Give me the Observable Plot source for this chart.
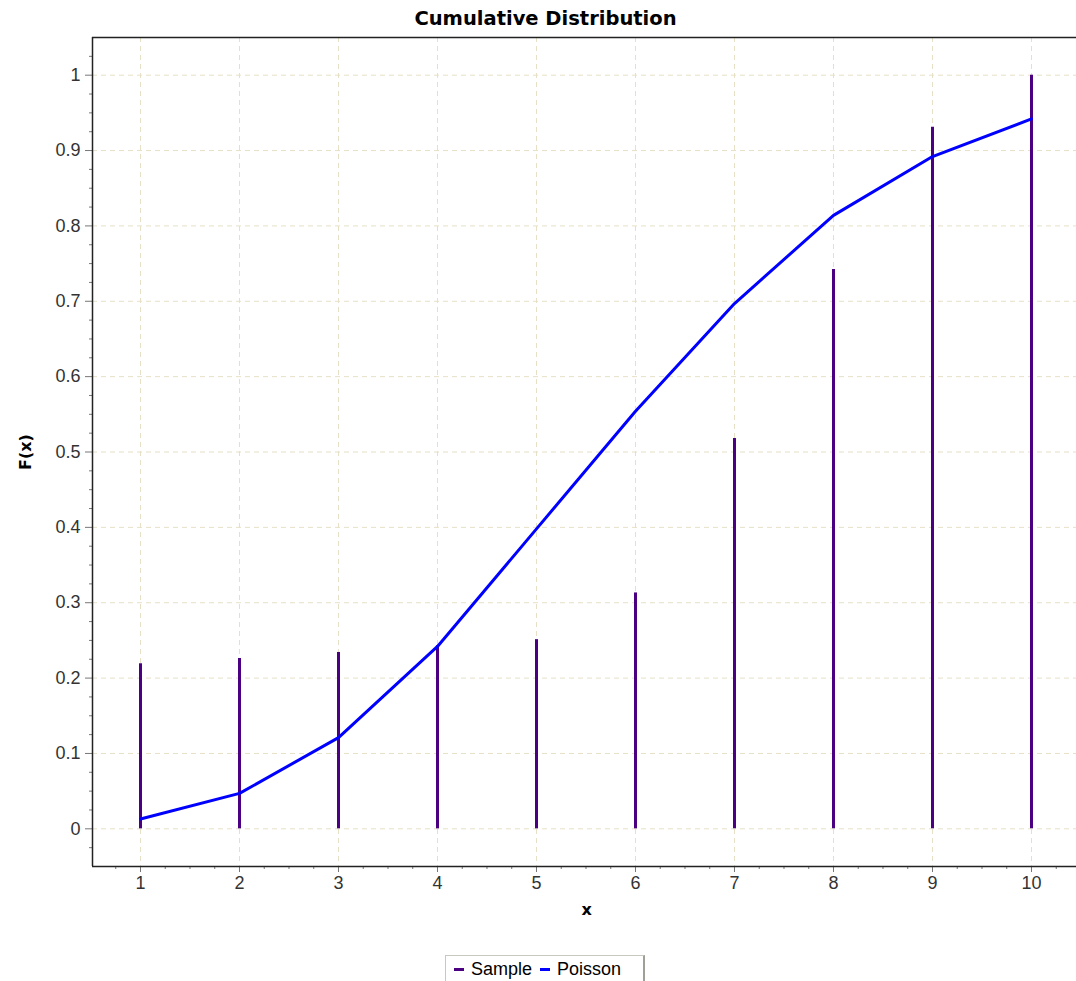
<!DOCTYPE html>
<html>
<head>
<meta charset="utf-8">
<script src="https://cdn.jsdelivr.net/npm/d3@7"></script>
<script src="https://cdn.jsdelivr.net/npm/@observablehq/plot@0.6"></script>
<style>
  html, body { margin: 0; padding: 0; background: #fff; }
  #wrap { position: relative; width: 1076px; height: 981px; overflow: hidden; }
  #title { position: absolute; left: 0; top: 8px; width: 1091px; text-align: center;
           font: bold 19.5px "DejaVu Sans", sans-serif; line-height: 22px; color: #000; }
  #chart { position: absolute; left: 0; top: 0; }
  #legend { position: absolute; left: 445px; top: 955px; width: 200px; height: 32px;
            border: 1px solid #c8c8c0; border-right: 2px solid #a0a098; box-sizing: border-box;
            font: 18px "Liberation Sans", Arial, sans-serif; color: #000;
            display: flex; align-items: flex-start; padding-top: 3px; padding-left: 8px; }
  .item { display: flex; align-items: center; margin-right: 8px; line-height: 20px; }
  .sw { display: inline-block; width: 10px; height: 3px; margin-right: 7px; }
</style>
</head>
<body>
<div id="wrap">
  <div id="chart"></div>
  <div id="title">Cumulative Distribution</div>
  <div id="legend"></div>
</div>
<script>
// Data
const xValues = [1, 2, 3, 4, 5, 6, 7, 8, 9, 10];
const sampleValues = [0.219, 0.226, 0.234, 0.243, 0.251, 0.313, 0.518, 0.742, 0.931, 1.0];
const poissonValues = [0.013, 0.047, 0.121, 0.242, 0.398, 0.554, 0.697, 0.814, 0.892, 0.942];
const yTicks = [0, 0.1, 0.2, 0.3, 0.4, 0.5, 0.6, 0.7, 0.8, 0.9, 1];
const seriesNames = ["Sample", "Poisson"];
const seriesColors = ["#4b0082", "#0000ff"];

const sample = xValues.map((x, i) => ({x, y: sampleValues[i]}));
const poisson = xValues.map((x, i) => ({x, y: poissonValues[i]}));

const xDomain = [0.5152, 10.5];
const yDomain = [-0.05, 1.05];
const xMinor = d3.range(0.75, 10.5, 0.25).filter(v => Math.abs(v - Math.round(v)) > 1e-6);
const yMinor = d3.range(-0.025, 1.05, 0.025).filter(v => Math.abs(v * 10 - Math.round(v * 10)) > 1e-6);

const gridColor = "#e6e0c6";

const plot = Plot.plot({
  width: 1076,
  height: 930,
  marginLeft: 92,
  marginRight: -4.5,
  marginTop: 37,
  marginBottom: 64,
  style: {fontFamily: "'Liberation Sans', Arial, sans-serif", background: "transparent"},
  x: {domain: xDomain},
  y: {domain: yDomain},
  marks: [
    Plot.gridX(xValues, {stroke: gridColor, strokeOpacity: 1, strokeDasharray: "5,4"}),
    Plot.gridY(yTicks, {stroke: gridColor, strokeOpacity: 1, strokeDasharray: "5,4"}),
    Plot.axisX(xValues, {tickSize: 6, tickPadding: 4, fontSize: 18, stroke: "#777", fill: "#333", label: null, tickFormat: d => String(d)}),
    Plot.axisX(xMinor, {tickSize: 3, tickFormat: () => "", stroke: "#777", label: null}),
    Plot.axisY(yTicks, {tickSize: 7, tickPadding: 5, fontSize: 18, stroke: "#777", fill: "#333", label: null, tickFormat: d => String(d)}),
    Plot.axisY(yMinor, {tickSize: 3, tickFormat: () => "", stroke: "#777", label: null}),
    Plot.ruleX([xDomain[0]], {stroke: "#222", strokeWidth: 1.5}),
    Plot.ruleY([yDomain[0]], {stroke: "#222", strokeWidth: 1.5}),
    Plot.ruleY([yDomain[1]], {stroke: "#222", strokeWidth: 1.5}),
    Plot.ruleX(sample, {x: "x", y1: 0, y2: "y", stroke: seriesColors[0], strokeWidth: 3}),
    Plot.line(poisson, {x: "x", y: "y", stroke: seriesColors[1], strokeWidth: 3}),
    Plot.text(["F(x)"], {frameAnchor: "left", textAnchor: "middle", lineAnchor: "middle", dx: -67, rotate: -90, fontWeight: "bold", fontSize: 16, fontFamily: "DejaVu Sans", fill: "#000"}),
    Plot.text(["x"], {frameAnchor: "bottom", dy: 48, fontWeight: "bold", fontSize: 16, fontFamily: "DejaVu Sans", fill: "#000"})
  ]
});
document.getElementById("chart").appendChild(plot);

const legend = document.getElementById("legend");
seriesNames.forEach((name, i) => {
  const item = document.createElement("span");
  item.className = "item";
  const sw = document.createElement("span");
  sw.className = "sw";
  sw.style.background = seriesColors[i];
  item.appendChild(sw);
  item.appendChild(document.createTextNode(name));
  legend.appendChild(item);
});
</script>
</body>
</html>
